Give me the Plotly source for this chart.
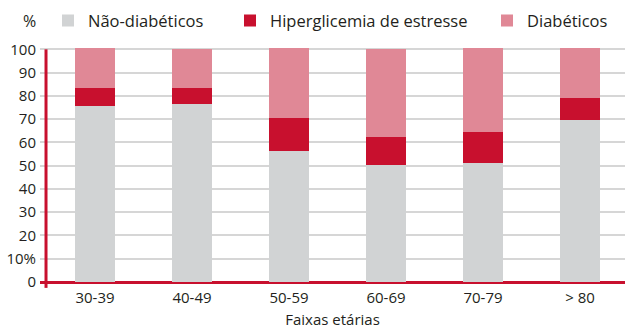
import plotly.graph_objects as go

# Age groups and share (%) of each glycemic category
faixas = ["30-39", "40-49", "50-59", "60-69", "70-79", "> 80"]
nao_diabeticos = [75.7, 76.5, 56.2, 50.2, 51.1, 69.5]
hiperglicemia = [7.6, 6.8, 14.2, 12.0, 13.3, 9.5]
diabeticos = [17.1, 16.7, 30.0, 37.8, 36.0, 21.4]

y_ticks = [0, 10, 20, 30, 40, 50, 60, 70, 80, 90, 100]
y_tick_text = ["0", "10%", "20", "30", "40", "50", "60", "70", "80", "90", "100"]

GRAY = "#d1d3d4"
RED = "#c8102e"
PINK = "#e08896"
TEXT = "#231f20"
FONT = "Open Sans"

fig = go.Figure()
series = [
    ("Não-diabéticos", nao_diabeticos, GRAY, "legend"),
    ("Hiperglicemia de estresse", hiperglicemia, RED, "legend2"),
    ("Diabéticos", diabeticos, PINK, "legend3"),
]
for name, vals, color, leg in series:
    fig.add_trace(go.Bar(
        x=list(range(len(faixas))), y=vals, name=name,
        marker=dict(color=color, line=dict(width=0)),
        width=0.412, legend=leg, showlegend=True,
    ))

legend_common = dict(orientation="h", yanchor="middle", xanchor="left",
                     font=dict(family=FONT, size=16.5, color=TEXT),
                     bgcolor="rgba(0,0,0,0)", borderwidth=0)

fig.update_layout(
    barmode="stack",
    showlegend=True,
    width=625, height=329,
    margin=dict(l=40, r=0, t=47, b=47),
    paper_bgcolor="white", plot_bgcolor="white",
    font=dict(family=FONT, size=15, color=TEXT),
    legend=dict(x=(60 - 40 - 12) / 585, y=1.112, **legend_common),
    legend2=dict(x=(242 - 40 - 12) / 585, y=1.112, **legend_common),
    legend3=dict(x=(499 - 40 - 12) / 585, y=1.112, **legend_common),
    xaxis=dict(
        range=[-0.567, 5.464],
        tickvals=list(range(len(faixas))), ticktext=faixas,
        showgrid=False, zeroline=False, showline=False, ticks="",
        ticklabelstandoff=5,
        tickfont=dict(family=FONT, size=15, color=TEXT),
        title=dict(text="Faixas etárias", font=dict(family=FONT, size=15, color=TEXT),
                   standoff=8),
    ),
    yaxis=dict(
        range=[0, 101],
        tickvals=y_ticks, ticktext=y_tick_text,
        showgrid=True, gridcolor="#d6d6d6", gridwidth=2,
        zeroline=True, zerolinecolor=RED, zerolinewidth=3,
        showline=False, ticks="",
        ticklabelstandoff=3,
        tickfont=dict(family=FONT, size=15, color=TEXT),
    ),
    shapes=[dict(
        type="line", xref="x", yref="paper",
        x0=-0.505, x1=-0.505, y0=-0.025, y1=100 / 101,
        line=dict(color=RED, width=3),
    )],
    annotations=[dict(
        text="%", xref="paper", yref="paper", x=(29 - 40) / 585, y=1.112,
        xanchor="center", yanchor="middle", showarrow=False,
        font=dict(family=FONT, size=16, color=TEXT),
    )],
)

fig.write_html("out.html")
